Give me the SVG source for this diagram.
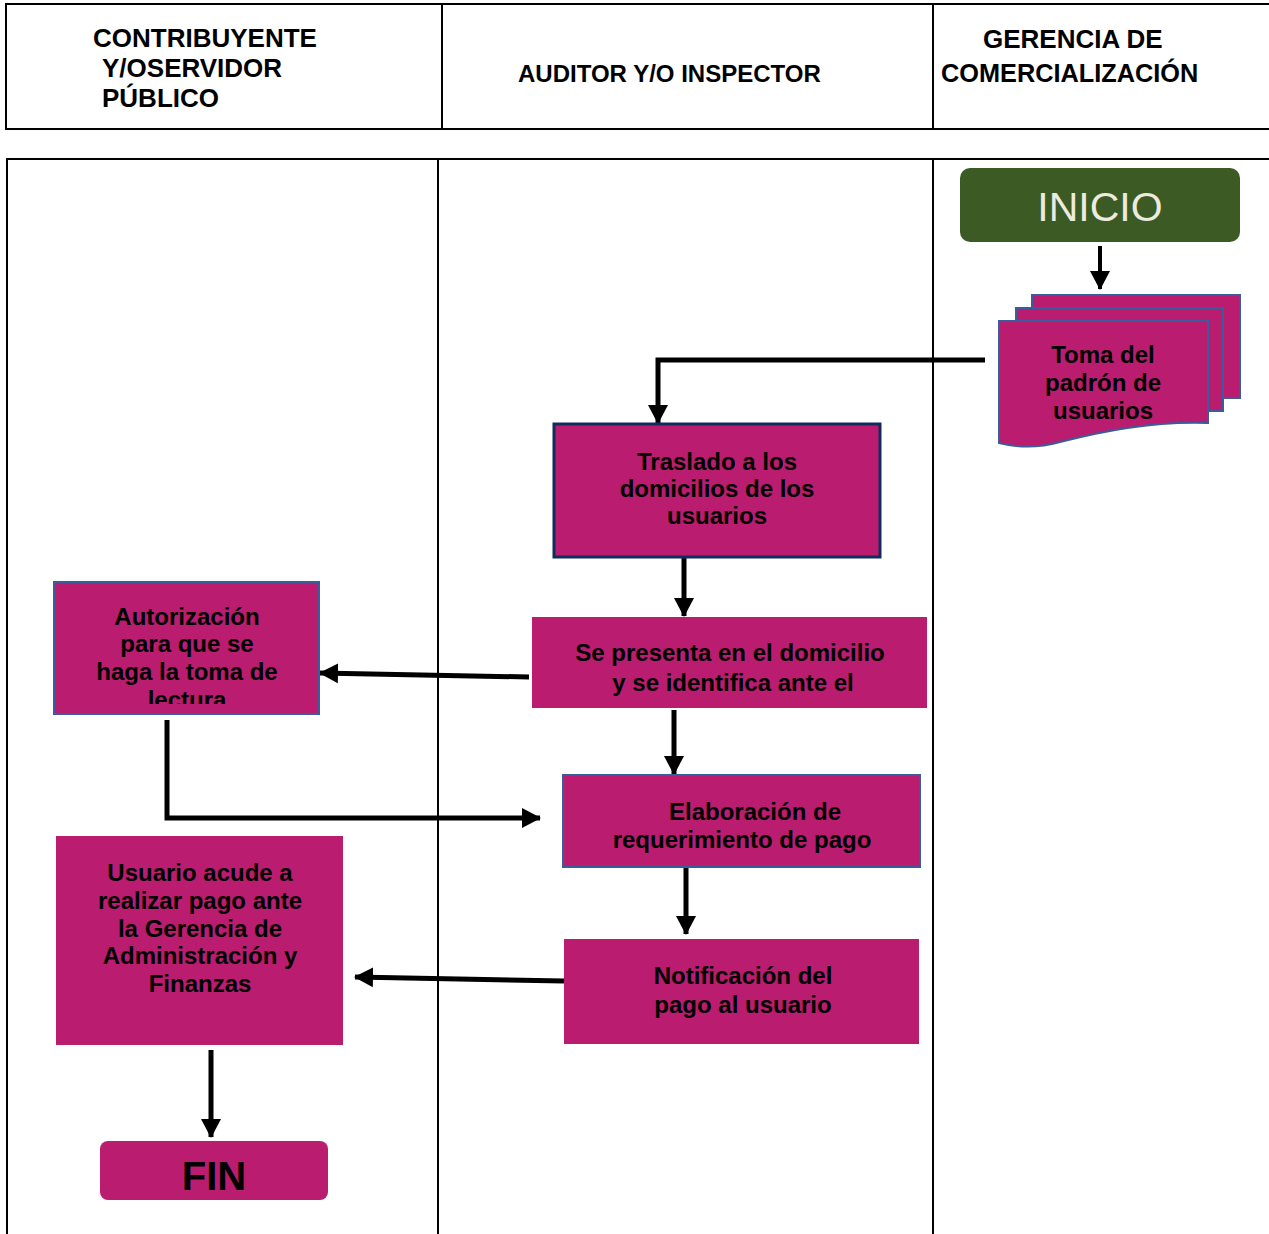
<svg xmlns="http://www.w3.org/2000/svg" width="1269" height="1234" viewBox="0 0 1269 1234">
<style>
.hdr{font-family:"Liberation Sans",Arial,sans-serif;font-weight:bold;font-size:26px;fill:#000}
.t{font-family:"Liberation Sans",Arial,sans-serif;font-weight:bold;font-size:24px;fill:#000;text-anchor:middle}
.box{fill:#BA1C6F}
.bl{stroke:#3B5C9A;stroke-width:2}
.grid{stroke:#000;stroke-width:2;fill:none}
.conn{stroke:#000;stroke-width:5;fill:none;marker-end:url(#ah)}
</style>
<defs>
<marker id="ah" markerUnits="userSpaceOnUse" markerWidth="22" markerHeight="22" viewBox="0 0 22 22" refX="18" refY="11" orient="auto">
<path d="M0,1 L19,11 L0,21 Z" fill="#000"/>
</marker>
<clipPath id="clipAut"><rect x="54" y="582" width="266" height="122"/></clipPath>
</defs>
<rect width="1269" height="1234" fill="#fff"/>
<g id="header">
<path class="grid" d="M1270,4 H6 V129 H1270 M442,4 V129 M933,4 V129"/>
<text class="hdr" x="93" y="47">CONTRIBUYENTE</text>
<text class="hdr" x="102" y="77">Y/OSERVIDOR</text>
<text class="hdr" x="102" y="107">PÚBLICO</text>
<text class="hdr" x="518" y="82" style="font-size:24px">AUDITOR Y/O INSPECTOR</text>
<text class="hdr" x="983" y="48">GERENCIA DE</text>
<text class="hdr" x="941" y="82" style="font-size:25.3px">COMERCIALIZACIÓN</text>
</g>
<g id="lanes">
<path class="grid" d="M1270,159 H7 V1236 M438,159 V1236 M933,159 V1236"/>
</g>
<g id="connectors">
<path class="conn" d="M1100,246 V289" style="stroke-width:4"/>
<path class="conn" d="M985,360 H658 V423"/>
<path class="conn" d="M684,550 V616"/>
<path class="conn" d="M529,677 L320,673"/>
<path class="conn" d="M674,710 V774"/>
<path class="conn" d="M167,720 V818 H540"/>
<path class="conn" d="M686,868 V934"/>
<path class="conn" d="M564,981 L355,977"/>
<path class="conn" d="M211,1050 V1137"/>
</g>
<g id="inicio">
<rect x="960" y="168" width="280" height="74" rx="10" fill="#3B5A24"/>
<text x="1100" y="221" style="font-family:'Liberation Sans',Arial,sans-serif;font-size:41px;fill:#EDEBDF;text-anchor:middle">INICIO</text>
</g>
<g id="toma">
<rect class="box bl" x="1032" y="295" width="208" height="103"/>
<rect class="box bl" x="1016" y="308" width="207" height="103"/>
<path class="box bl" d="M999,321 H1208 V423 C1150,421 1100,432 1060,442 C1035,449 1015,447 999,443 Z"/>
<text class="t" x="1103" y="363">Toma del</text>
<text class="t" x="1103" y="391">padrón de</text>
<text class="t" x="1103" y="419">usuarios</text>
</g>
<g id="traslado">
<rect class="box" x="554" y="424" width="326" height="133" stroke="#132A5E" stroke-width="3"/>
<text class="t" x="717" y="470">Traslado a los</text>
<text class="t" x="717" y="497">domicilios de los</text>
<text class="t" x="717" y="524">usuarios</text>
</g>
<g id="presenta">
<rect class="box" x="532" y="617" width="395" height="91"/>
<text class="t" x="730" y="661">Se presenta en el domicilio</text>
<text class="t" x="733" y="691">y se identifica ante el</text>
</g>
<g id="autorizacion">
<rect class="box bl" x="54" y="582" width="265" height="132"/>
<g clip-path="url(#clipAut)">
<text class="t" x="187" y="625">Autorización</text>
<text class="t" x="187" y="652">para que se</text>
<text class="t" x="187" y="680">haga la toma de</text>
<text class="t" x="187" y="708">lectura</text>
</g>
</g>
<g id="elaboracion">
<rect class="box bl" x="563" y="775" width="357" height="92"/>
<text class="t" x="755" y="820">Elaboración de</text>
<text class="t" x="742" y="848">requerimiento de pago</text>
</g>
<g id="notificacion">
<rect class="box" x="564" y="939" width="355" height="105"/>
<text class="t" x="743" y="984">Notificación del</text>
<text class="t" x="743" y="1013">pago al usuario</text>
</g>
<g id="usuario">
<rect class="box" x="56" y="836" width="287" height="209"/>
<text class="t" x="200" y="881">Usuario acude a</text>
<text class="t" x="200" y="909">realizar pago ante</text>
<text class="t" x="200" y="937">la Gerencia de</text>
<text class="t" x="200" y="964">Administración y</text>
<text class="t" x="200" y="992">Finanzas</text>
</g>
<g id="fin">
<rect class="box" x="100" y="1141" width="228" height="59" rx="8"/>
<text x="214" y="1190" style="font-family:'Liberation Sans',Arial,sans-serif;font-weight:bold;font-size:40px;fill:#000;text-anchor:middle">FIN</text>
</g>
</svg>
